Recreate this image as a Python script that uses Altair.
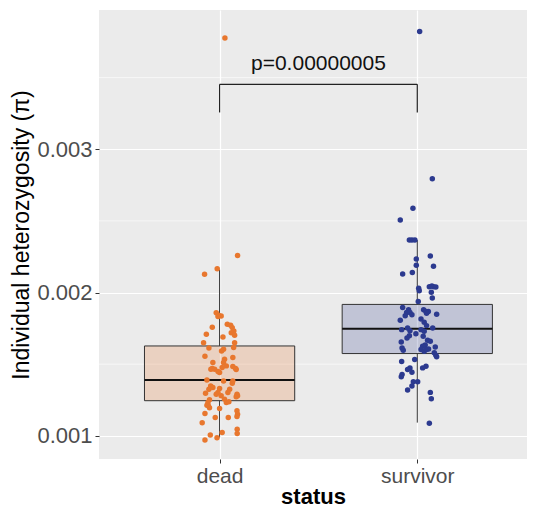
import altair as alt
import pandas as pd

categories = ["dead", "survivor"]
colors = ["#E8772E", "#2C3A8F"]

# box summaries (q1, median, q3, whisker low, whisker high)
q1 = [0.001245, 0.001574]
med = [0.001389, 0.001748]
q3 = [0.001627, 0.001917]
wlo = [0.000988, 0.001092]
whi = [0.002160, 0.002366]

dead_values = [3.776, 2.259, 2.166, 2.127, 1.859, 1.841, 1.836, 1.832, 1.757, 1.778,
               1.771, 1.755, 1.732, 1.720, 1.702, 1.708, 1.690, 1.650, 1.650, 1.616,
               1.613, 1.604, 1.592, 1.546, 1.555, 1.511, 1.534, 1.511, 1.488, 1.476,
               1.483, 1.469, 1.462, 1.469, 1.465, 1.465, 1.441, 1.448, 1.390, 1.383,
               1.383, 1.367, 1.348, 1.337, 1.325, 1.330, 1.302, 1.290, 1.325, 1.302,
               1.290, 1.279, 1.272, 1.297, 1.279, 1.256, 1.232, 1.237, 1.251, 1.232,
               1.214, 1.195, 1.209, 1.190, 1.156, 1.128, 1.128, 1.174, 1.151, 1.135,
               1.091, 1.023, 1.046, 1.016, 1.005, 0.986, 0.970]
dead_jitter = [0.027, 0.091, -0.012, -0.076, -0.017, -0.005, 0.008, -0.008, -0.037, 0.039,
               0.056, 0.064, 0.072, 0.059, 0.076, -0.067, 0.017, -0.081, 0.076, 0.071,
               -0.054, 0.020, 0.010, 0.067, -0.074, -0.034, 0.025, 0.020, 0.034, 0.013,
               0.067, 0.081, 0.084, -0.037, -0.044, -0.025, 0.000, -0.008, -0.064, 0.020,
               0.067, 0.064, -0.045, -0.034, -0.054, 0.000, -0.008, -0.017, 0.051, 0.042,
               0.088, 0.091, 0.084, -0.071, 0.008, 0.025, 0.034, 0.047, -0.051, -0.059,
               -0.064, -0.051, -0.057, 0.000, -0.074, -0.022, 0.044, 0.088, 0.091, 0.088,
               -0.088, 0.013, 0.089, 0.089, -0.047, -0.013, -0.074]

surv_values = [3.822, 2.794, 2.588, 2.507, 2.366, 2.366, 2.366, 2.234, 2.255, 2.190,
               2.183, 2.130, 2.139, 2.030, 2.012, 2.040, 2.045, 2.040, 2.038, 2.002,
               1.961, 1.938, 1.896, 1.880, 1.861, 1.861, 1.838, 1.845, 1.880, 1.868,
               1.868, 1.856, 1.849, 1.806, 1.815, 1.792, 1.769, 1.741, 1.752, 1.734,
               1.713, 1.741, 1.729, 1.752, 1.699, 1.683, 1.694, 1.655, 1.667, 1.660,
               1.634, 1.625, 1.613, 1.597, 1.602, 1.590, 1.602, 1.606, 1.620, 1.579,
               1.563, 1.551, 1.532, 1.519, 1.486, 1.474, 1.474, 1.463, 1.444, 1.428,
               1.412, 1.377, 1.377, 1.347, 1.319, 1.303, 1.259, 1.088]
surv_jitter = [0.012, 0.076, -0.022, -0.086, -0.040, -0.027, -0.012, -0.005, 0.066, -0.005,
               0.082, -0.074, -0.025, 0.007, 0.010, 0.061, 0.074, 0.082, 0.094, 0.071,
               0.076, 0.005, -0.074, -0.044, -0.054, -0.037, -0.061, -0.027, 0.032, 0.044,
               0.056, 0.047, 0.098, -0.086, 0.019, 0.035, 0.047, -0.079, -0.049, -0.037,
               -0.007, 0.019, 0.035, 0.078, -0.040, -0.052, 0.030, -0.081, 0.052, 0.066,
               0.040, 0.027, -0.077, -0.071, 0.019, 0.035, 0.047, 0.057, 0.091, 0.086,
               0.094, 0.098, -0.013, -0.079, 0.044, 0.027, -0.037, -0.049, -0.027, -0.077,
               -0.081, -0.020, 0.002, -0.027, -0.049, 0.066, 0.071, 0.061]

y_ticks = [0.001, 0.002, 0.003]
y_minor = [0.0015, 0.0025, 0.0035]
p_label = "p=0.00000005"
bracket_top = 0.003453
bracket_bottom = 0.003257
p_y = 0.00355
box_half = 0.38

rows = []
for v, j in zip(dead_values, dead_jitter):
    rows.append({"status": categories[0], "pos": 1 + j, "value": v / 1000})
for v, j in zip(surv_values, surv_jitter):
    rows.append({"status": categories[1], "pos": 2 + j, "value": v / 1000})
pts = pd.DataFrame(rows)

box = pd.DataFrame({
    "status": categories,
    "pos": [1, 2],
    "left": [1 - box_half, 2 - box_half],
    "right": [1 + box_half, 2 + box_half],
    "q1": q1, "med": med, "q3": q3, "lo": wlo, "hi": whi,
})

xdom = [0.39, 2.555]
ydom = [0.000838, 0.003972]
xs = alt.Scale(domain=xdom, nice=False, zero=False)
ys = alt.Scale(domain=ydom, nice=False, zero=False)
cscale = alt.Scale(domain=categories, range=colors)

label_expr = "datum.value == 1 ? '%s' : '%s'" % (categories[0], categories[1])

xaxis = alt.Axis(values=[1, 2], labelExpr=label_expr, title="status", grid=True,
                 gridColor="white", gridWidth=1.2, domain=False, tickColor="#333333",
                 tickSize=4, labelColor="#4D4D4D", labelFontSize=21, labelPadding=2,
                 titleFontSize=22, titleFontWeight="bold", titleColor="black",
                 titlePadding=0, labelFont="Liberation Sans", titleFont="Liberation Sans")
yaxis = alt.Axis(values=y_ticks, format=".3f", title="Individual heterozygosity (\u03c0)",
                 grid=True, gridColor="white", gridWidth=1.2, domain=False,
                 tickColor="#333333", tickSize=4, labelColor="#4D4D4D", labelFontSize=22,
                 labelPadding=3, titleFontSize=23, titleFontWeight="normal",
                 titleColor="black", titlePadding=3, labelFont="Liberation Sans",
                 titleFont="Liberation Sans")

minor = alt.Chart(pd.DataFrame({"v": y_minor})).mark_rule(
    color="white", strokeWidth=0.6).encode(
    y=alt.Y("v:Q", scale=ys, axis=yaxis))

boxes = alt.Chart(box).mark_rect(stroke="#333333", strokeWidth=1, fillOpacity=0.22).encode(
    x=alt.X("left:Q", scale=xs, axis=xaxis), x2="right:Q",
    y=alt.Y("q1:Q", scale=ys), y2="q3:Q",
    fill=alt.Color("status:N", scale=cscale, legend=None))

w_low = alt.Chart(box).mark_rule(color="#333333", strokeWidth=1).encode(
    x=alt.X("pos:Q", scale=xs), y=alt.Y("lo:Q", scale=ys), y2="q1:Q")
w_high = alt.Chart(box).mark_rule(color="#333333", strokeWidth=1).encode(
    x=alt.X("pos:Q", scale=xs), y=alt.Y("q3:Q", scale=ys), y2="hi:Q")
medians = alt.Chart(box).mark_rule(color="#111111", strokeWidth=2).encode(
    x=alt.X("left:Q", scale=xs), x2="right:Q", y=alt.Y("med:Q", scale=ys))

points = alt.Chart(pts).mark_circle(size=30, opacity=1).encode(
    x=alt.X("pos:Q", scale=xs), y=alt.Y("value:Q", scale=ys),
    color=alt.Color("status:N", scale=cscale, legend=None))

br = pd.DataFrame({"x1": [1.0, 1.0, 2.0], "x2": [2.0, 1.0, 2.0],
                   "y1": [bracket_top, bracket_top, bracket_top],
                   "y2": [bracket_top, bracket_bottom, bracket_bottom]})
bracket = alt.Chart(br).mark_rule(color="#222222", strokeWidth=1.2).encode(
    x=alt.X("x1:Q", scale=xs), x2="x2:Q", y=alt.Y("y1:Q", scale=ys), y2="y2:Q")

ptext = alt.Chart(pd.DataFrame({"x": [1.5], "y": [p_y], "t": [p_label]})).mark_text(
    fontSize=21, font="Liberation Sans", color="#111111", align="center",
    baseline="alphabetic").encode(
    x=alt.X("x:Q", scale=xs), y=alt.Y("y:Q", scale=ys), text="t:N")

chart = alt.layer(minor, boxes, w_low, w_high, medians, points, bracket, ptext).properties(
    width=428, height=449,
    background="white",
    autosize=alt.AutoSizeParams(type="none"),
    padding={"left": 91, "top": 2, "right": 0, "bottom": 50},
).configure_view(fill="#EBEBEB", strokeWidth=0)

chart.save("out.html", embed_options={"renderer": "svg", "actions": False})
